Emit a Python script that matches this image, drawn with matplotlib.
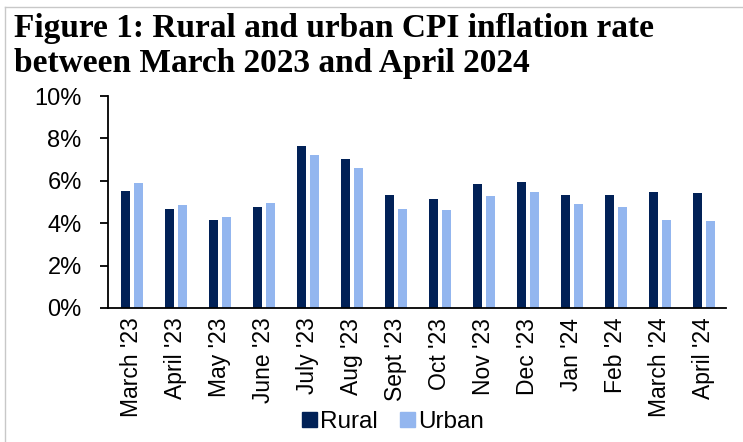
import matplotlib.pyplot as plt
import numpy as np
from matplotlib.patches import Patch
from matplotlib.lines import Line2D
from matplotlib.ticker import FuncFormatter

months = ["March '23", "April '23", "May '23", "June '23", "July '23", "Aug '23",
          "Sept '23", "Oct '23", "Nov '23", "Dec '23", "Jan '24", "Feb '24",
          "March '24", "April '24"]
rural = [5.51, 4.68, 4.17, 4.78, 7.63, 7.02, 5.33, 5.12, 5.85, 5.93, 5.34, 5.34, 5.45, 5.43]
urban = [5.89, 4.85, 4.27, 4.96, 7.20, 6.59, 4.65, 4.62, 5.26, 5.46, 4.92, 4.78, 4.14, 4.11]

rural_color = '#012157'
urban_color = '#93b6ef'

plt.rcParams['font.family'] = ['Liberation Sans', 'DejaVu Sans']

fig = plt.figure(figsize=(7.43, 4.42), dpi=100)
ax = fig.add_axes([0.1454, 0.3032, 0.8316, 0.4796])

x = np.arange(len(months))
w = 0.21
ax.bar(x - 0.15, rural, width=w, color=rural_color)
ax.bar(x + 0.15, urban, width=w, color=urban_color)

ax.set_xlim(-0.54, len(months) - 0.5)
ax.set_ylim(0, 10)
ax.set_yticks([0, 2, 4, 6, 8, 10])
ax.yaxis.set_major_formatter(FuncFormatter(lambda v, p: f'{v:.0f}%'))
ax.set_xticks(x)
ax.set_xticklabels(months, rotation=90)

for s in ['top', 'right']:
    ax.spines[s].set_visible(False)
ax.spines['left'].set_linewidth(1.3)
ax.spines['bottom'].set_linewidth(1.3)
ax.tick_params(axis='y', length=6, width=1.3, pad=13, labelsize=17)
ax.tick_params(axis='x', length=0, pad=7, labelsize=16.5)

# title, two lines, serif bold
fig.text(0.019, 1 - 37 / 442, 'Figure 1: Rural and urban CPI inflation rate',
         fontsize=24, fontweight='bold', family='Liberation Serif', va='baseline')
fig.text(0.019, 1 - 72 / 442, 'between March 2023 and April 2024',
         fontsize=24, fontweight='bold', family='Liberation Serif', va='baseline')

handles = [Patch(color=rural_color, label='Rural'), Patch(color=urban_color, label='Urban')]
fig.legend(handles=handles, loc='center', bbox_to_anchor=(0.529, 0.045), ncol=2,
           frameon=False, fontsize=17.5, handlelength=0.6, handleheight=0.6,
           handletextpad=0.15, columnspacing=0.9, borderpad=0)

# light frame from the page
fig.add_artist(Line2D([5 / 743, 5 / 743], [0, 1 - 7 / 442], color='#c8c8c8', lw=1, transform=fig.transFigure))
fig.add_artist(Line2D([5 / 743, 1], [1 - 7 / 442, 1 - 7 / 442], color='#c8c8c8', lw=1, transform=fig.transFigure))

fig.savefig('out.png', dpi=100)
